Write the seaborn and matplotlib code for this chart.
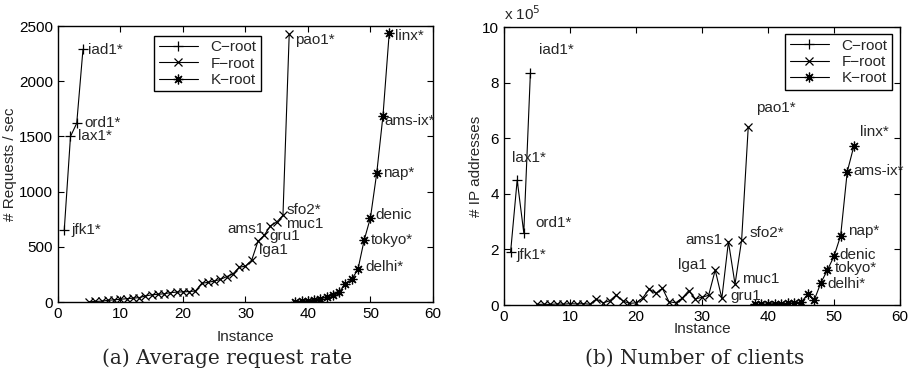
import matplotlib
matplotlib.use('Agg')
import matplotlib.pyplot as plt
import seaborn as sns

# --- Datos ---
# Instancias (eje x) de cada servidor raíz
C_X = [1, 2, 3, 4]
F_X = list(range(5, 38))
K_X = list(range(38, 54))

# (a) Tasa media de peticiones (# Requests / sec)
C_RATE = [650, 1500, 1620, 2290]
F_RATE = [2, 5, 8, 15, 20, 25, 30, 35, 40, 55, 65, 70, 75, 85, 90, 92, 95,
          100, 170, 178, 190, 205, 230, 255, 315, 325, 380, 550, 605, 690,
          725, 785, 2425]
K_RATE = [3, 8, 12, 20, 30, 45, 60, 90, 165, 205, 296, 562, 764, 1166,
          1685, 2434]

# (b) Número de clientes (# IP addresses, x 10^5)
C_CLIENTS = [1.9, 4.5, 2.6, 8.35]
F_CLIENTS = [0.02, 0.03, 0.02, 0.04, 0.03, 0.05, 0.04, 0.05, 0.03, 0.22,
             0.08, 0.15, 0.36, 0.15, 0.06, 0.08, 0.25, 0.58, 0.42, 0.6,
             0.12, 0.08, 0.25, 0.52, 0.22, 0.28, 0.35, 1.26, 0.24, 2.28,
             0.75, 2.34, 6.4]
K_CLIENTS = [0.02, 0.02, 0.03, 0.05, 0.05, 0.06, 0.08, 0.1, 0.38, 0.18,
             0.8, 1.26, 1.76, 2.5, 4.8, 5.72]

# Nombres de los sitios destacados: (serie, instancia, nombre)
SITIOS = [('C', 1, 'jfk1*'), ('C', 2, 'lax1*'), ('C', 3, 'ord1*'), ('C', 4, 'iad1*'),
          ('F', 32, 'lga1'), ('F', 33, 'gru1'), ('F', 34, 'ams1'), ('F', 35, 'muc1'),
          ('F', 36, 'sfo2*'), ('F', 37, 'pao1*'),
          ('K', 48, 'delhi*'), ('K', 49, 'tokyo*'), ('K', 50, 'denic'),
          ('K', 51, 'nap*'), ('K', 52, 'ams-ix*'), ('K', 53, 'linx*')]

# Desplazamiento de cada etiqueta respecto a su punto (pixeles, alineación)
OFFSET_A = {'jfk1*': (7, 0, 'left'), 'lax1*': (8, 0, 'left'), 'ord1*': (8, 0, 'left'),
            'iad1*': (5, -1, 'left'), 'lga1': (1, -9, 'left'), 'gru1': (5, -1, 'left'),
            'ams1': (-6, -3, 'right'), 'muc1': (9, -2, 'left'), 'sfo2*': (4, 5, 'left'),
            'pao1*': (6, -6, 'left'), 'delhi*': (7, 2, 'left'), 'tokyo*': (7, 0, 'left'),
            'denic': (5, 3, 'left'), 'nap*': (6, 0, 'left'), 'ams-ix*': (1, -5, 'left'),
            'linx*': (6, -3, 'left')}
OFFSET_B = {'jfk1*': (6, -3, 'left'), 'lax1*': (-5, 22, 'left'), 'ord1*': (12, 10, 'left'),
            'iad1*': (9, 23, 'left'), 'lga1': (-8, 5, 'right'), 'gru1': (9, 2, 'left'),
            'ams1': (-6, 2, 'right'), 'muc1': (7, 5, 'left'), 'sfo2*': (8, 7, 'left'),
            'pao1*': (8, 19, 'left'), 'delhi*': (7, -1, 'left'), 'tokyo*': (7, 2, 'left'),
            'denic': (5, 1, 'left'), 'nap*': (7, 5, 'left'), 'ams-ix*': (6, 1, 'left'),
            'linx*': (6, 14, 'left')}

sns.set_style('ticks')
plt.rcParams['font.family'] = ['Liberation Sans', 'DejaVu Sans']
plt.rcParams['font.size'] = 11
plt.rcParams['xtick.direction'] = 'in'
plt.rcParams['ytick.direction'] = 'in'
plt.rcParams['xtick.top'] = True
plt.rcParams['ytick.right'] = True
plt.rcParams['xtick.major.size'] = 4
plt.rcParams['ytick.major.size'] = 4

MARCADORES = {'C': '+', 'F': 'x', 'K': (8, 2, 0)}
TAMANOS = {'C': 7, 'F': 5.5, 'K': 7}
NOMBRES = {'C': 'C\u2212root', 'F': 'F\u2212root', 'K': 'K\u2212root'}


def dibujar(ax, series, offsets):
    for clave, (xs, ys) in series.items():
        sns.lineplot(x=xs, y=ys, ax=ax, color='k', linewidth=0.8,
                     marker=MARCADORES[clave], markersize=TAMANOS[clave],
                     markeredgecolor='k', markeredgewidth=0.9,
                     label=NOMBRES[clave], sort=False)
    for clave, inst, nombre in SITIOS:
        xs, ys = series[clave]
        y = ys[xs.index(inst)]
        dx, dy, ha = offsets[nombre]
        ax.annotate(nombre, xy=(inst, y), xytext=(dx, dy), textcoords='offset pixels',
                    ha=ha, va='center', fontsize=11)
    ax.set_xlim(0, 60)
    ax.set_xticks(range(0, 61, 10))
    for sp in ax.spines.values():
        sp.set_linewidth(1.0)
        sp.set_color('k')
    ax.tick_params(colors='k', width=0.8, labelsize=11)


fig = plt.figure(figsize=(9.19, 3.78), dpi=100)
ax1 = fig.add_axes([0.0631, 0.201, 0.408, 0.730])
ax2 = fig.add_axes([0.5484, 0.193, 0.431, 0.735])

dibujar(ax1, {'C': (C_X, C_RATE), 'F': (F_X, F_RATE), 'K': (K_X, K_RATE)}, OFFSET_A)
ax1.set_ylim(0, 2500)
ax1.set_yticks(range(0, 2501, 500))
ax1.set_xlabel('Instance', fontsize=11, va='top')
ax1.set_ylabel('# Requests / sec', fontsize=11, va='bottom')
ax1.xaxis.set_label_coords(0.499, -0.10)
ax1.yaxis.set_label_coords(-0.109, 0.5)
ax1.legend(loc='upper left', bbox_to_anchor=(0.256, 0.965), fancybox=False,
           edgecolor='k', framealpha=1, fontsize=11, handlelength=2.6,
           borderaxespad=0, borderpad=0.3, labelspacing=0.15)

dibujar(ax2, {'C': (C_X, C_CLIENTS), 'F': (F_X, F_CLIENTS), 'K': (K_X, K_CLIENTS)}, OFFSET_B)
ax2.set_ylim(0, 10)
ax2.set_yticks(range(0, 11, 2))
ax2.set_xlabel('Instance', fontsize=11, va='top')
ax2.set_ylabel('# IP addresses', fontsize=11, va='bottom')
ax2.xaxis.set_label_coords(0.5, -0.06)
ax2.yaxis.set_label_coords(-0.053, 0.5)
ax2.text(0.0, 1.015, r'x 10$^5$', transform=ax2.transAxes, fontsize=11,
         ha='left', va='bottom')
ax2.legend(loc='upper right', bbox_to_anchor=(0.98, 0.975), fancybox=False,
           edgecolor='k', framealpha=1, fontsize=11, handlelength=2.6,
           borderaxespad=0, borderpad=0.3, labelspacing=0.15)

fig.text(0.247, 0.053, '(a) Average request rate', ha='center', va='center',
         fontsize=14.5, family='DejaVu Serif')
fig.text(0.756, 0.053, '(b) Number of clients', ha='center', va='center',
         fontsize=14.5, family='DejaVu Serif')

fig.savefig('out.png', dpi=100)
